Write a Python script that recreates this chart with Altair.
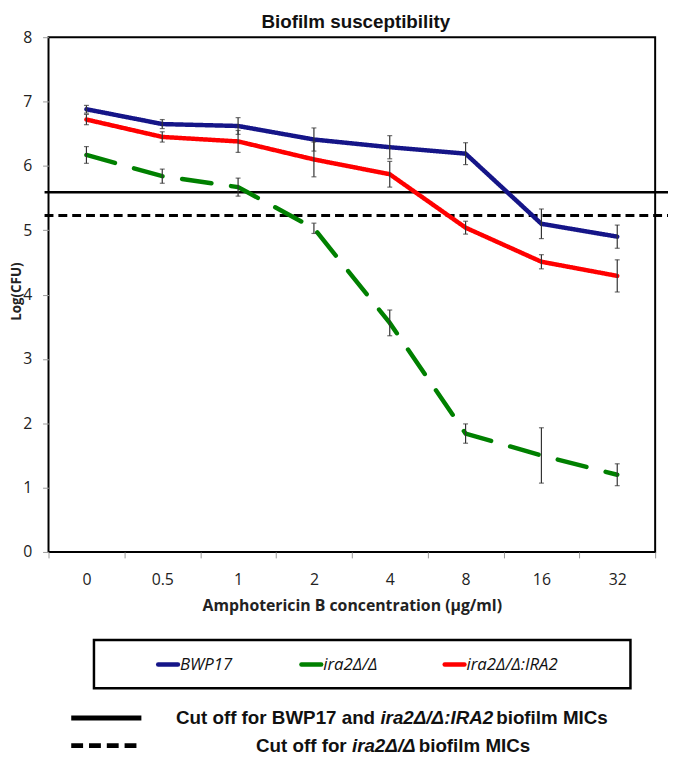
import altair as alt
import pandas as pd

# ---------------- data ----------------
concentrations = ["0", "0.5", "1", "2", "4", "8", "16", "32"]
series_names = ["BWP17", "ira2Δ/Δ", "ira2Δ/Δ:IRA2"]

bwp17_mean = [6.88, 6.65, 6.62, 6.41, 6.29, 6.19, 5.10, 4.90]
bwp17_err = [0.06, 0.07, 0.13, 0.18, 0.18, 0.17, 0.23, 0.18]

ira2_mean = [6.17, 5.84, 5.67, 5.03, 3.56, 1.84, 1.50, 1.20]
ira2_err = [0.13, 0.11, 0.14, 0.08, 0.20, 0.15, 0.43, 0.17]

ira2_ira2_mean = [6.72, 6.45, 6.38, 6.10, 5.87, 5.04, 4.51, 4.29]
ira2_ira2_err = [0.08, 0.08, 0.17, 0.27, 0.20, 0.10, 0.11, 0.25]

cutoff_values = [5.59, 5.23]

series_colors = ["#151588", "#008000", "#FF0000"]

rows = []
for name, means, errs in zip(series_names,
                             [bwp17_mean, ira2_mean, ira2_ira2_mean],
                             [bwp17_err, ira2_err, ira2_ira2_err]):
    for c, m, e in zip(concentrations, means, errs):
        rows.append({"conc": c, "series": name, "value": m,
                     "lo": m - e, "hi": m + e})
df = pd.DataFrame(rows)

# ---------------- scales ----------------
x_enc = alt.X("conc:N", sort=concentrations,
              scale=alt.Scale(type="band", domain=concentrations,
                              paddingInner=0, paddingOuter=0),
              axis=alt.Axis(title="Amphotericin B concentration (µg/ml)",
                            labelAngle=0, labelFont="Open Sans", labelFontSize=16,
                            labelColor="#222222", labelPadding=14,
                            tickBand="extent", tickSize=6, tickColor="#999999",
                            domain=False, grid=False,
                            titleFont="Open Sans", titleFontSize=16,
                            titleFontWeight="bold", titleColor="#222222",
                            titleY=54, titleBaseline="middle"))
y_scale = alt.Scale(domain=[0, 8], nice=False, zero=True)
y_axis = alt.Axis(title="Log(CFU)", values=list(range(0, 9)), format="d",
                  grid=False, domain=False, tickSize=6, tickColor="#999999",
                  labelFont="Open Sans", labelFontSize=16, labelColor="#222222",
                  labelPadding=11, titleFont="Open Sans", titleFontSize=13.5,
                  titleFontWeight="bold", titleColor="#222222",
                  titleX=-32, titleY=257, titleAngle=-90,
                  titleAlign="center", titleBaseline="middle")

color_scale = alt.Scale(domain=series_names, range=series_colors)
dash_scale = alt.Scale(domain=series_names, range=[[1, 0], [30, 20], [1, 0]])

base = alt.Chart(df)

lines = base.mark_line(strokeWidth=4.5, strokeCap="round").encode(
    x=x_enc,
    y=alt.Y("value:Q", scale=y_scale, axis=y_axis),
    color=alt.Color("series:N", scale=color_scale, legend=None),
    strokeDash=alt.StrokeDash("series:N", scale=dash_scale, legend=None),
    detail="series:N",
)

err_rules = base.mark_rule(color="#333333", strokeWidth=1.2).encode(
    x=alt.X("conc:N", sort=concentrations),
    y=alt.Y("lo:Q"), y2="hi:Q",
)
err_cap_lo = base.mark_tick(color="#333333", thickness=1.2, size=5,
                            orient="horizontal").encode(
    x=alt.X("conc:N", sort=concentrations), y=alt.Y("lo:Q"))
err_cap_hi = base.mark_tick(color="#333333", thickness=1.2, size=5,
                            orient="horizontal").encode(
    x=alt.X("conc:N", sort=concentrations), y=alt.Y("hi:Q"))

one = pd.DataFrame({"k": [0]})

cut_solid = alt.Chart(one).mark_rule(color="black", strokeWidth=2.5).encode(
    y=alt.datum(cutoff_values[0]), x=alt.value(-4), x2=alt.value(627))
cut_dash = alt.Chart(one).mark_rule(color="black", strokeWidth=3,
                                    strokeDash=[9, 5]).encode(
    y=alt.datum(cutoff_values[1]), x=alt.value(-4), x2=alt.value(627))

title = alt.Chart(one).mark_text(text="Biofilm susceptibility",
                                 font="Liberation Sans", fontSize=19,
                                 fontWeight="bold", align="center",
                                 baseline="middle", color="#111111").encode(
    x=alt.value(311), y=alt.value(-15))

# ---------------- custom legend ----------------
legend_box = alt.Chart(one).mark_rect(fillOpacity=0, stroke="black",
                                      strokeWidth=2.5).encode(
    x=alt.value(46), x2=alt.value(589), y=alt.value(610), y2=alt.value(659))

legend_layers = [legend_box]
legend_x = [111, 256, 401]
for name, col, lx in zip(series_names, series_colors, legend_x):
    legend_layers.append(
        alt.Chart(one).mark_rule(color=col, strokeWidth=4.5, strokeCap="round").encode(
            x=alt.value(lx), x2=alt.value(lx + 20), y=alt.value(635)))
    legend_layers.append(
        alt.Chart(one).mark_text(text=name, font="Open Sans", fontSize=17,
                                 fontStyle="italic", align="left",
                                 baseline="middle", color="#111111").encode(
            x=alt.value(lx + 22), y=alt.value(635)))

# cut-off key lines
legend_layers.append(alt.Chart(one).mark_rule(color="black", strokeWidth=5).encode(
    x=alt.value(23), x2=alt.value(94), y=alt.value(689)))
legend_layers.append(alt.Chart(one).mark_rule(color="black", strokeWidth=5,
                                              strokeDash=[12, 6]).encode(
    x=alt.value(23), x2=alt.value(94), y=alt.value(717)))


def seg(text, xpos, ypos, italic=False):
    kw = dict(text=text, font="Liberation Sans", fontSize=19, fontWeight="bold",
              align="left", baseline="middle", color="#111111")
    if italic:
        kw["fontStyle"] = "italic"
    return alt.Chart(one).mark_text(**kw).encode(x=alt.value(xpos), y=alt.value(ypos))


fs = 19 / 1000.0
sp = 278 * fs
w1 = 10889 * fs
w2 = 5892 * fs
legend_layers += [
    seg("Cut off for BWP17 and", 129, 689),
    seg("ira2Δ/Δ:IRA2", 129 + w1, 689, italic=True),
    seg("biofilm MICs", 129 + w1 + w2 + sp, 689),
]
v1 = 5110 * fs
v2 = 3281 * fs
legend_layers += [
    seg("Cut off for", 210, 717),
    seg("ira2Δ/Δ", 210 + v1, 717, italic=True),
    seg("biofilm MICs", 210 + v1 + v2 + sp, 717),
]

chart = alt.layer(
    cut_solid, cut_dash, lines, err_rules, err_cap_lo, err_cap_hi, title,
    *legend_layers
).properties(
    width=614, height=521,
    padding={"left": 41, "top": 25, "right": 13, "bottom": 205},
    autosize=alt.AutoSizeParams(type="none"),
).configure_view(stroke="black", strokeWidth=2)

chart.save("out.html", embed_options={"renderer": "svg", "actions": False})
